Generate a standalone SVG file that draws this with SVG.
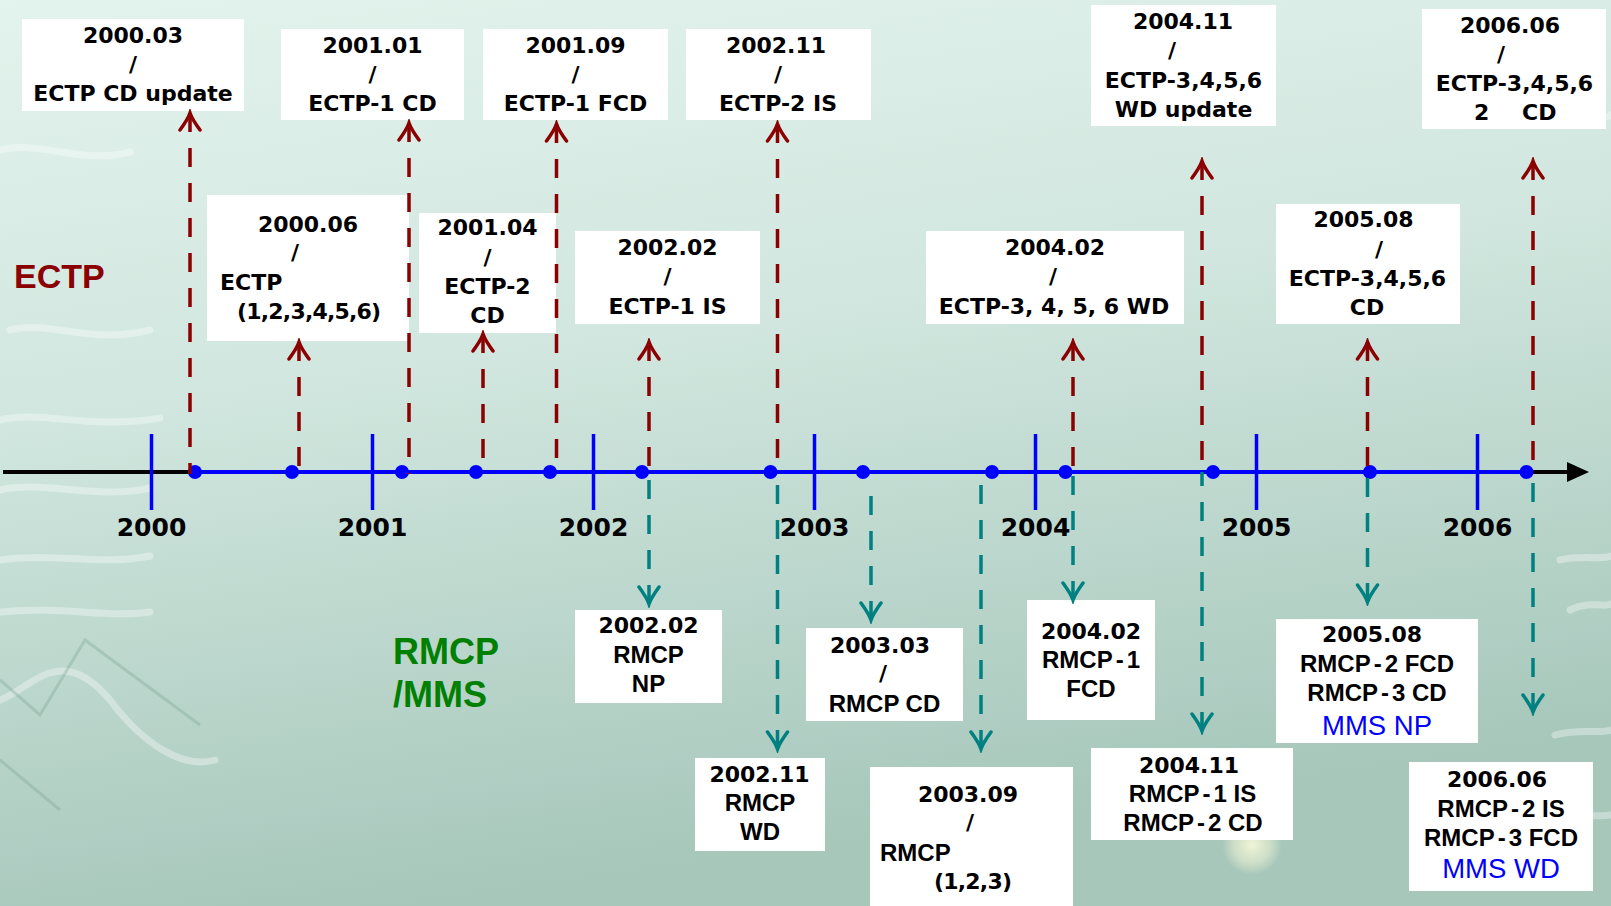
<svg xmlns="http://www.w3.org/2000/svg" width="1611" height="906" viewBox="0 0 1611 906">
<defs>
<linearGradient id="bg" x1="0" y1="0" x2="0.25" y2="1">
<stop offset="0" stop-color="#e3f3ed"/>
<stop offset="0.45" stop-color="#d0e6de"/>
<stop offset="1" stop-color="#a7c7bb"/>
</linearGradient>
<radialGradient id="glow" cx="0.5" cy="0.5" r="0.5">
<stop offset="0" stop-color="#f4f6d8" stop-opacity="0.95"/>
<stop offset="0.6" stop-color="#e8efd0" stop-opacity="0.6"/>
<stop offset="1" stop-color="#e8efd0" stop-opacity="0"/>
</radialGradient>
<marker id="ahRed" markerUnits="userSpaceOnUse" viewBox="-20 -13 24 26" markerWidth="24" markerHeight="26" refX="0" refY="0" orient="auto-start-reverse">
<path d="M-17,-10 Q-6,-2 0,0 Q-6,2 -17,10" fill="none" stroke="#8b0000" stroke-width="3.5" stroke-linecap="round"/>
</marker>
<marker id="ahTeal" markerUnits="userSpaceOnUse" viewBox="-20 -13 24 26" markerWidth="24" markerHeight="26" refX="0" refY="0" orient="auto-start-reverse">
<path d="M-17,-10 Q-6,-2 0,0 Q-6,2 -17,10" fill="none" stroke="#008080" stroke-width="3.5" stroke-linecap="round"/>
</marker>
<style>
.box{fill:#ffffff}
.d{font-family:"DejaVu Sans","Liberation Sans",sans-serif;font-weight:bold;font-size:22px;fill:#000;text-anchor:middle}
.ds{font-family:"DejaVu Sans","Liberation Sans",sans-serif;font-weight:bold;font-size:22px;fill:#000;text-anchor:start}
.a{font-family:"Liberation Sans",Arial,sans-serif;font-weight:bold;font-size:24px;fill:#000;text-anchor:middle}
.as{font-family:"Liberation Sans",Arial,sans-serif;font-weight:bold;font-size:24px;fill:#000;text-anchor:start}
.m{font-family:"Liberation Sans",Arial,sans-serif;font-size:27.5px;fill:#0000ff;text-anchor:middle}
.yr{font-family:"DejaVu Sans","Liberation Sans",sans-serif;font-weight:bold;font-size:25px;fill:#000;text-anchor:middle}
.red{fill:none;stroke:#8b0000;stroke-width:3.5;stroke-dasharray:19 16;marker-start:url(#ahRed)}
.teal{fill:none;stroke:#008080;stroke-width:3.5;stroke-dasharray:19 16;marker-start:url(#ahTeal)}
.tick{stroke:#0000ff;stroke-width:3.5}
.dot{fill:#0000ff}
.deco{fill:none;stroke:#ffffff;stroke-opacity:0.35;stroke-width:7;stroke-linecap:round}
.deco2{fill:none;stroke:#6f9a8c;stroke-opacity:0.3;stroke-width:3}
</style>
</defs>

<g id="background">
<rect x="0" y="0" width="1611" height="906" fill="url(#bg)"/>
<path class="deco" d="M0,150 C40,140 80,165 130,152"/>
<path class="deco" d="M10,330 C50,320 90,345 150,330"/>
<path class="deco" d="M0,420 C40,410 90,430 160,418"/>
<path class="deco" d="M0,490 C40,480 100,500 150,488"/>
<path class="deco" d="M0,560 C50,552 100,566 150,556"/>
<path class="deco" d="M0,612 C60,606 110,618 150,612"/>
<path class="deco" d="M0,700 C30,690 60,640 110,700 C140,740 180,770 215,760"/>
<path class="deco2" d="M0,680 L40,715 L85,640 L200,725"/>
<path class="deco2" d="M0,760 L60,810"/>
<path class="deco" d="M1560,560 C1580,555 1600,560 1611,556"/>
<path class="deco" d="M1570,610 C1590,600 1605,608 1611,604"/>
<path class="deco" d="M1555,735 C1580,728 1600,734 1611,730"/>
<path class="deco" d="M1560,820 C1585,812 1600,818 1611,815"/>
<path class="deco" d="M1540,120 C1570,110 1595,125 1611,115"/>
<circle cx="1252" cy="845" r="30" fill="url(#glow)"/>
</g>

<g id="labels">
<text x="14" y="288" font-family="Liberation Sans, Arial, sans-serif" font-weight="bold" font-size="34" fill="#8b0000">ECTP</text>
<text x="393" y="664" font-family="Liberation Sans, Arial, sans-serif" font-weight="bold" font-size="36" fill="#008000">RMCP</text>
<text x="393" y="707" font-family="Liberation Sans, Arial, sans-serif" font-weight="bold" font-size="36" fill="#008000">/MMS</text>
</g>

<g id="n-2000-03"><rect class="box" x="22" y="19" width="222" height="92"/>
<text class="d" x="133" y="43">2000.03</text><text class="d" x="133" y="72">/</text><text class="d" x="133" y="101">ECTP CD update</text></g>
<g id="n-2001-01"><rect class="box" x="281" y="29" width="183" height="91"/>
<text class="d" x="372.5" y="53">2001.01</text><text class="d" x="372.5" y="82">/</text><text class="d" x="372.5" y="111">ECTP-1 CD</text></g>
<g id="n-2001-09"><rect class="box" x="483" y="29" width="185" height="91"/>
<text class="d" x="575.5" y="53">2001.09</text><text class="d" x="575.5" y="82">/</text><text class="d" x="575.5" y="111">ECTP-1 FCD</text></g>
<g id="n-2002-11"><rect class="box" x="686" y="29" width="185" height="91"/>
<text class="d" x="776" y="53">2002.11</text><text class="d" x="778" y="82">/</text><text class="d" x="778" y="111">ECTP-2 IS</text></g>
<g id="n-2004-11"><rect class="box" x="1091" y="5" width="185" height="121"/>
<text class="d" x="1183" y="29">2004.11</text><text class="d" x="1172" y="58">/</text><text class="d" x="1183.5" y="87.5">ECTP-3,4,5,6</text><text class="d" x="1183.5" y="116.5">WD update</text></g>
<g id="n-2006-06"><rect class="box" x="1422" y="9" width="184" height="120"/>
<text class="d" x="1510" y="33">2006.06</text><text class="d" x="1501" y="62">/</text><text class="d" x="1514.5" y="91">ECTP-3,4,5,6</text>
<text class="ds" y="120"><tspan x="1474">2</tspan><tspan x="1522">CD</tspan></text></g>
<g id="n-2000-06"><rect class="box" x="207" y="195" width="202" height="146"/>
<text class="d" x="308" y="232">2000.06</text><text class="d" x="295" y="260">/</text><text class="ds" x="220" y="290">ECTP</text><text class="ds" x="237" y="319" letter-spacing="-0.8">(1,2,3,4,5,6)</text></g>
<g id="n-2001-04"><rect class="box" x="419" y="213" width="137" height="120"/>
<text class="d" x="487.5" y="235">2001.04</text><text class="d" x="487.5" y="264.5">/</text><text class="d" x="487.5" y="294">ECTP-2</text><text class="d" x="487.5" y="323">CD</text></g>
<g id="n-2002-02"><rect class="box" x="575" y="231" width="185" height="93"/>
<text class="d" x="667.5" y="255">2002.02</text><text class="d" x="667.5" y="284">/</text><text class="d" x="667.5" y="314">ECTP-1 IS</text></g>
<g id="n-2004-02"><rect class="box" x="926" y="231" width="258" height="93"/>
<text class="d" x="1055" y="255">2004.02</text><text class="d" x="1053" y="284">/</text><text class="d" x="1054" y="314">ECTP-3, 4, 5, 6 WD</text></g>
<g id="n-2005-08"><rect class="box" x="1276" y="204" width="184" height="120"/>
<text class="d" x="1363.5" y="227">2005.08</text><text class="d" x="1379" y="256.5">/</text><text class="d" x="1367.5" y="286">ECTP-3,4,5,6</text><text class="d" x="1367" y="315">CD</text></g>

<g id="r-2002-02"><rect class="box" x="575" y="610" width="147" height="93"/>
<text class="d" x="648.5" y="633">2002.02</text><text class="a" x="648.5" y="663">RMCP</text><text class="a" x="648.5" y="692">NP</text></g>
<g id="r-2002-11"><rect class="box" x="695" y="758" width="130" height="93"/>
<text class="d" x="759.5" y="782">2002.11</text><text class="a" x="760" y="811">RMCP</text><text class="a" x="760" y="840">WD</text></g>
<g id="r-2003-03"><rect class="box" x="806" y="628" width="157" height="93"/>
<text class="d" x="880" y="653">2003.03</text><text class="d" x="883" y="681">/</text><text class="a" x="884.5" y="712">RMCP CD</text></g>
<g id="r-2003-09"><rect class="box" x="870" y="767" width="203" height="139"/>
<text class="d" x="968" y="802">2003.09</text><text class="d" x="970" y="830">/</text><text class="as" x="880" y="861">RMCP</text><text class="ds" x="934" y="889" font-size="21" letter-spacing="-0.8">(1,2,3)</text></g>
<g id="r-2004-02"><rect class="box" x="1027" y="600" width="128" height="120"/>
<text class="d" x="1091" y="639">2004.02</text><text class="a" x="1091" y="668">RMCP<tspan dx="3">-</tspan><tspan dx="3">1</tspan></text><text class="a" x="1091" y="697">FCD</text></g>
<g id="r-2004-11"><rect class="box" x="1091" y="748" width="202" height="92"/>
<text class="d" x="1189" y="773">2004.11</text><text class="a" x="1192.5" y="802">RMCP<tspan dx="3">-</tspan><tspan dx="3">1 IS</tspan></text><text class="a" x="1193" y="831">RMCP<tspan dx="3">-</tspan><tspan dx="3">2 CD</tspan></text></g>
<g id="r-2005-08"><rect class="box" x="1276" y="619" width="202" height="124"/>
<text class="d" x="1372" y="642">2005.08</text><text class="a" x="1377" y="672">RMCP<tspan dx="3">-</tspan><tspan dx="3">2 FCD</tspan></text><text class="a" x="1377" y="701">RMCP<tspan dx="3">-</tspan><tspan dx="3">3 CD</tspan></text><text class="m" x="1377" y="735">MMS NP</text></g>
<g id="r-2006-06"><rect class="box" x="1409" y="762" width="184" height="129"/>
<text class="d" x="1497" y="787">2006.06</text><text class="a" x="1501" y="817">RMCP<tspan dx="3">-</tspan><tspan dx="3">2 IS</tspan></text><text class="a" x="1501" y="846">RMCP<tspan dx="3">-</tspan><tspan dx="3">3 FCD</tspan></text><text class="m" x="1501" y="878">MMS WD</text></g>

<g id="timeline">
<line x1="3" y1="472" x2="1572" y2="472" stroke="#000" stroke-width="4"/>
<path d="M1567,462 L1589,472 L1567,482 Z" fill="#000"/>
<line x1="195" y1="472" x2="1527" y2="472" stroke="#0000ff" stroke-width="4"/>
<line class="tick" x1="151.5" y1="434" x2="151.5" y2="510"/>
<line class="tick" x1="372.5" y1="434" x2="372.5" y2="510"/>
<line class="tick" x1="593.5" y1="434" x2="593.5" y2="510"/>
<line class="tick" x1="814.5" y1="434" x2="814.5" y2="510"/>
<line class="tick" x1="1035.5" y1="434" x2="1035.5" y2="510"/>
<line class="tick" x1="1256.5" y1="434" x2="1256.5" y2="510"/>
<line class="tick" x1="1477.5" y1="434" x2="1477.5" y2="510"/>
<text class="yr" x="151.5" y="536">2000</text>
<text class="yr" x="372.5" y="536">2001</text>
<text class="yr" x="593.5" y="536">2002</text>
<text class="yr" x="814.5" y="536">2003</text>
<text class="yr" x="1035.5" y="536">2004</text>
<text class="yr" x="1256.5" y="536">2005</text>
<text class="yr" x="1477.5" y="536">2006</text>
<circle class="dot" cx="195" cy="472" r="7"/>
<circle class="dot" cx="292" cy="472" r="7"/>
<circle class="dot" cx="402" cy="472" r="7"/>
<circle class="dot" cx="476" cy="472" r="7"/>
<circle class="dot" cx="550" cy="472" r="7"/>
<circle class="dot" cx="642" cy="472" r="7"/>
<circle class="dot" cx="770.5" cy="472" r="7"/>
<circle class="dot" cx="863" cy="472" r="7"/>
<circle class="dot" cx="992" cy="472" r="7"/>
<circle class="dot" cx="1065.5" cy="472" r="7"/>
<circle class="dot" cx="1213" cy="472" r="7"/>
<circle class="dot" cx="1370" cy="472" r="7"/>
<circle class="dot" cx="1526.5" cy="472" r="7"/>
</g>

<g id="connectors">
<path class="red" d="M190,113 V474"/>
<path class="red" d="M299,342 V474"/>
<path class="red" d="M409,123 V474"/>
<path class="red" d="M483,334 V474"/>
<path class="red" d="M556.5,124 V474"/>
<path class="red" d="M649,342 V474"/>
<path class="red" d="M777.5,124 V474"/>
<path class="red" d="M1073,342 V474"/>
<path class="red" d="M1202,161 V474"/>
<path class="red" d="M1367.5,342 V474"/>
<path class="red" d="M1533,161 V474"/>
<path class="teal" d="M649,604 V472"/>
<path class="teal" d="M777.5,749 V472"/>
<path class="teal" d="M871,620 V489"/>
<path class="teal" d="M981,749 V472"/>
<path class="teal" d="M1073,600 V472"/>
<path class="teal" d="M1202,731 V472"/>
<path class="teal" d="M1367.5,602 V472"/>
<path class="teal" d="M1533,712 V472"/>
</g>
</svg>
